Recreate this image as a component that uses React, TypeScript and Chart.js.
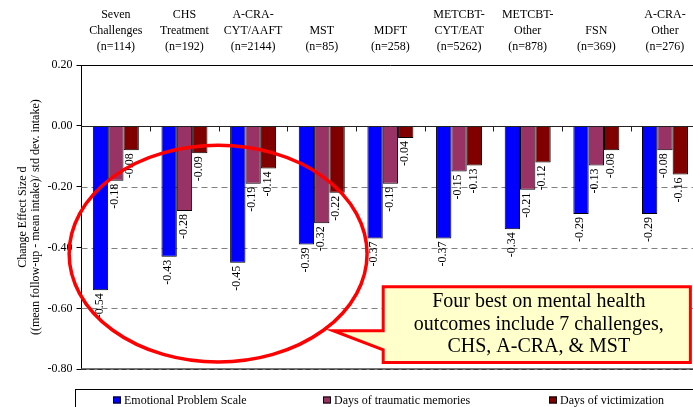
import React, { useEffect, useRef } from "react";
import { Chart, registerables } from "chart.js";

Chart.register(...registerables);

const categories: string[][] = [
  ["Seven", "Challenges", "(n=114)"],
  ["CHS", "Treatment", "(n=192)"],
  ["A-CRA-", "CYT/AAFT", "(n=2144)"],
  ["MST", "(n=85)"],
  ["MDFT", "(n=258)"],
  ["METCBT-", "CYT/EAT", "(n=5262)"],
  ["METCBT-", "Other", "(n=878)"],
  ["FSN", "(n=369)"],
  ["A-CRA-", "Other", "(n=276)"],
];
const seriesNames = ["Emotional Problem Scale", "Days of traumatic memories", "Days of victimization"];
const emotional = [-0.54, -0.43, -0.45, -0.39, -0.37, -0.37, -0.34, -0.29, -0.29];
const traumatic = [-0.18, -0.28, -0.19, -0.32, -0.19, -0.15, -0.21, -0.13, -0.08];
const victimization = [-0.08, -0.09, -0.14, -0.22, -0.04, -0.13, -0.12, -0.08, -0.16];
const seriesColors = ["#0000FF", "#993366", "#800000"];
const yMin = -0.8;
const yMax = 0.2;
const yStep = 0.2;
const dashedGridValues = [-0.2, -0.4, -0.6];
const yTitle = ["Change Effect Size d", "((mean follow-up - mean intake)/ std dev. intake)"];
const calloutLines = ["Four best on mental health", "outcomes include 7 challenges,", "CHS, A-CRA, & MST"];

const SERIF = "'Liberation Serif', 'Times New Roman', serif";

const overlayPlugin = {
  id: "overlay",
  beforeDatasetsDraw(chart: any) {
    const { ctx, chartArea: ca, scales } = chart;
    const y = scales.y;
    ctx.save();
    // dashed grid lines
    ctx.strokeStyle = "#808080";
    ctx.lineWidth = 1;
    ctx.setLineDash([6, 4]);
    for (const v of dashedGridValues) {
      const py = Math.round(y.getPixelForValue(v)) + 0.5;
      ctx.beginPath();
      ctx.moveTo(ca.left, py);
      ctx.lineTo(ca.right, py);
      ctx.stroke();
    }
    ctx.setLineDash([]);
    // top border
    const pt = Math.round(y.getPixelForValue(yMax)) + 0.5;
    ctx.strokeStyle = "#000";
    ctx.beginPath();
    ctx.moveTo(ca.left, pt);
    ctx.lineTo(ca.right, pt);
    ctx.stroke();
    // bottom border
    const pb = Math.round(y.getPixelForValue(yMin));
    ctx.strokeStyle = "#777";
    ctx.lineWidth = 2;
    ctx.beginPath();
    ctx.moveTo(ca.left, pb);
    ctx.lineTo(ca.right, pb);
    ctx.stroke();
    ctx.strokeStyle = "#333";
    ctx.lineWidth = 1;
    ctx.setLineDash([5, 3]);
    ctx.beginPath();
    ctx.moveTo(ca.left, pb + 0.5);
    ctx.lineTo(ca.right, pb + 0.5);
    ctx.stroke();
    ctx.restore();
  },
  afterDatasetsDraw(chart: any) {
    const { ctx, chartArea: ca, scales } = chart;
    const x = scales.x;
    const y = scales.y;
    ctx.save();
    // zero line
    const p0 = Math.round(y.getPixelForValue(0)) + 0.5;
    ctx.strokeStyle = "#222";
    ctx.lineWidth = 1;
    ctx.beginPath();
    ctx.moveTo(ca.left, p0);
    ctx.lineTo(ca.right, p0);
    ctx.stroke();
    // category separator ticks on the zero line
    for (let i = 0; i < categories.length - 1; i++) {
      const px = Math.round(x.getPixelForValue(i + 0.5)) + 0.5;
      ctx.beginPath();
      ctx.moveTo(px, p0);
      ctx.lineTo(px, p0 + 5);
      ctx.stroke();
    }
    // data labels
    ctx.fillStyle = "#000";
    ctx.font = `12px ${SERIF}`;
    ctx.textAlign = "right";
    ctx.textBaseline = "middle";
    chart.data.datasets.forEach((ds: any, di: number) => {
      const meta = chart.getDatasetMeta(di);
      meta.data.forEach((el: any, i: number) => {
        const v = ds.data[i] as number;
        ctx.save();
        ctx.translate(el.x - 1, el.y + 3);
        ctx.rotate(-Math.PI / 2);
        ctx.fillText(v.toFixed(2), 0, 0);
        ctx.restore();
      });
    });

    // red ellipse annotation
    const unitX = x.getPixelForValue(1) - x.getPixelForValue(0);
    const unitY = y.getPixelForValue(-1) - y.getPixelForValue(0);
    const ex = x.getPixelForValue(1.49);
    const ey = y.getPixelForValue(-0.42);
    ctx.strokeStyle = "#FF0000";
    ctx.lineWidth = 3.5;
    ctx.beginPath();
    ctx.ellipse(ex, ey, unitX * 2.17, unitY * 0.356, 0, 0, Math.PI * 2);
    ctx.stroke();

    // callout
    const bl = x.getPixelForValue(3.895);
    const br = x.getPixelForValue(8.37);
    const bt = y.getPixelForValue(-0.529);
    const bb = y.getPixelForValue(-0.778);
    const tipX = x.getPixelForValue(3.166);
    const tipY = y.getPixelForValue(-0.673);
    const notchB = y.getPixelForValue(-0.736);
    ctx.beginPath();
    ctx.moveTo(bl, bt);
    ctx.lineTo(br, bt);
    ctx.lineTo(br, bb);
    ctx.lineTo(bl, bb);
    ctx.lineTo(bl, notchB);
    ctx.lineTo(tipX, tipY);
    ctx.lineTo(bl, tipY);
    ctx.closePath();
    ctx.fillStyle = "#FFFFCC";
    ctx.fill();
    ctx.strokeStyle = "#FF0000";
    ctx.lineWidth = 3;
    ctx.lineJoin = "miter";
    ctx.stroke();
    ctx.fillStyle = "#000";
    ctx.font = `20px ${SERIF}`;
    ctx.textAlign = "center";
    ctx.textBaseline = "middle";
    const cx = (bl + br) / 2 + 2;
    const lineVals = [-0.578, -0.653, -0.726];
    calloutLines.forEach((t, i) => {
      ctx.fillText(t, cx, y.getPixelForValue(lineVals[i]));
    });
    ctx.restore();
  },
  afterDraw(chart: any) {
    const { ctx, chartArea: ca, width } = chart;
    ctx.save();
    // legend frame
    const lx = Math.round(ca.left - 6.5) + 0.5;
    const ly = Math.round(ca.bottom + 20) + 0.5;
    ctx.strokeStyle = "#000";
    ctx.lineWidth = 1;
    ctx.strokeRect(lx, ly, width + 20 - lx, 40);
    const itemX = [113, 323, 549];
    ctx.font = `12px ${SERIF}`;
    ctx.textAlign = "left";
    ctx.textBaseline = "middle";
    seriesNames.forEach((name, i) => {
      const sx = itemX[i];
      ctx.fillStyle = seriesColors[i];
      ctx.fillRect(sx, ly + 7, 8, 7);
      ctx.strokeStyle = "#000";
      ctx.strokeRect(sx + 0.5, ly + 7.5, 7, 6);
      ctx.fillStyle = "#000";
      ctx.fillText(name, sx + 11, ly + 11);
    });
    ctx.restore();
  },
};

export default function App() {
  const ref = useRef<HTMLCanvasElement>(null);
  useEffect(() => {
    if (!ref.current) return;
    const chart = new Chart(ref.current, {
      type: "bar",
      data: {
        labels: categories,
        datasets: [emotional, traumatic, victimization].map((d, i) => ({
          label: seriesNames[i],
          data: d,
          backgroundColor: seriesColors[i],
          borderColor: "#000",
          borderWidth: 1,
          categoryPercentage: 0.67,
          barPercentage: 1,
        })),
      },
      options: {
        responsive: false,
        maintainAspectRatio: false,
        animation: false,
        devicePixelRatio: 1,
        layout: { padding: { left: 0, right: 0.7, top: 0, bottom: 37.7 } },
        plugins: { legend: { display: false }, tooltip: { enabled: false } },
        scales: {
          x: {
            position: "top",
            grid: { display: false, drawTicks: false },
            border: { display: false },
            ticks: {
              autoSkip: false,
              maxRotation: 0,
              minRotation: 0,
              padding: 9.6,
              color: "#000",
              font: { family: SERIF, size: 12, lineHeight: 1.35 },
            },
            afterFit: (s: any) => {
              s.height = 65;
            },
          },
          y: {
            min: yMin,
            max: yMax,
            grid: { display: true, drawOnChartArea: false, drawTicks: true, tickLength: 5, color: "#000" },
            border: { display: true, color: "#000", width: 1 },
            ticks: {
              stepSize: yStep,
              padding: 4,
              color: "#000",
              font: { family: SERIF, size: 12 },
              callback: (v: any) => (Math.abs(Number(v)) < 1e-9 ? "0.00" : Number(v).toFixed(2)),
            },
            title: {
              display: true,
              text: yTitle,
              color: "#000",
              font: { family: SERIF, size: 12, lineHeight: 1.05 },
              padding: { top: 16.5, bottom: 0 },
            },
            afterFit: (s: any) => {
              s.width = 81.5;
            },
          },
        },
      },
      plugins: [overlayPlugin],
    } as any);
    return () => chart.destroy();
  }, []);
  return (
    <div style={{ position: "fixed", left: 0, top: 0, width: 693, height: 407, overflow: "hidden", background: "#fff" }}>
      <canvas ref={ref} width={700} height={407} style={{ width: 700, height: 407, display: "block" }} />
    </div>
  );
}
